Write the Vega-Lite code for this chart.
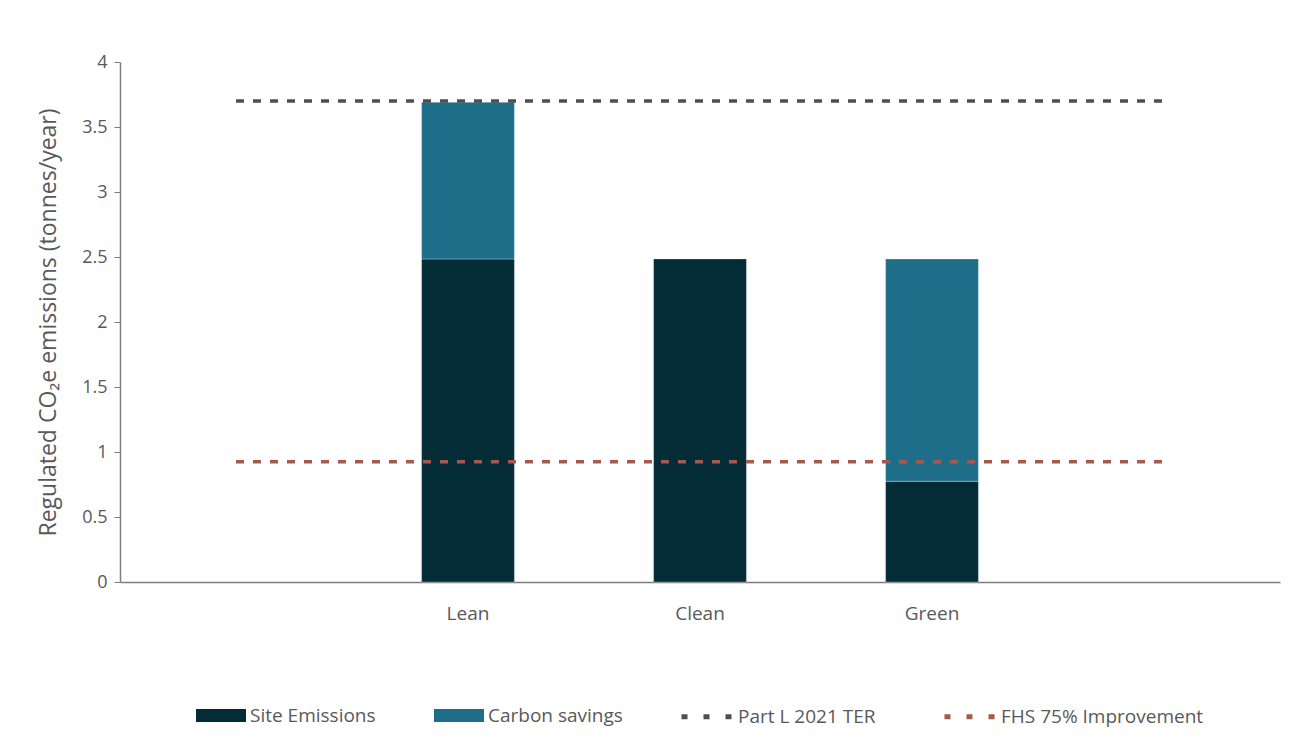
{
  "$schema": "https://vega.github.io/schema/vega-lite/v6.json",
  "width": 1160,
  "height": 520,
  "autosize": {"type": "none"},
  "padding": {"left": 120, "top": 62, "right": 23, "bottom": 156},
  "background": "white",
  "datasets": {
    "bars": [
      {"stage": "Lean", "series": "Site Emissions", "value": 2.485},
      {"stage": "Lean", "series": "Carbon savings", "value": 1.205},
      {"stage": "Clean", "series": "Site Emissions", "value": 2.485},
      {"stage": "Green", "series": "Site Emissions", "value": 0.775},
      {"stage": "Green", "series": "Carbon savings", "value": 1.71}
    ],
    "lines": [
      {"stage": "_a", "target": "Part L 2021 TER", "value": 3.7},
      {"stage": "Lean", "target": "Part L 2021 TER", "value": 3.7},
      {"stage": "Clean", "target": "Part L 2021 TER", "value": 3.7},
      {"stage": "Green", "target": "Part L 2021 TER", "value": 3.7},
      {"stage": "_b", "target": "Part L 2021 TER", "value": 3.7},
      {"stage": "_a", "target": "FHS 75% Improvement", "value": 0.925},
      {"stage": "Lean", "target": "FHS 75% Improvement", "value": 0.925},
      {"stage": "Clean", "target": "FHS 75% Improvement", "value": 0.925},
      {"stage": "Green", "target": "FHS 75% Improvement", "value": 0.925},
      {"stage": "_b", "target": "FHS 75% Improvement", "value": 0.925}
    ]
  },
  "encoding": {
    "x": {
      "field": "stage",
      "type": "nominal",
      "scale": {"domain": ["_a", "Lean", "Clean", "Green", "_b"], "paddingInner": 0.6, "paddingOuter": 0.3},
      "axis": {
        "title": null,
        "labelAngle": 0,
        "labelExpr": "indexof(datum.value, '_') == 0 ? '' : datum.value",
        "ticks": false,
        "labelPadding": 22,
        "labelFontSize": 19,
        "labelColor": "#595959",
        "labelFont": "Open Sans",
        "domainColor": "#7f7f7f",
        "domainWidth": 1.5
      }
    },
    "y": {
      "field": "value",
      "type": "quantitative",
      "scale": {"domain": [0, 4], "nice": false},
      "axis": {
        "title": "Regulated CO₂e emissions (tonnes/year)",
        "titleFont": "Open Sans",
        "titleFontSize": 23,
        "titleFontWeight": "normal",
        "titleColor": "#595959",
        "titlePadding": 21,
        "values": [0, 0.5, 1, 1.5, 2, 2.5, 3, 3.5, 4],
        "format": "~g",
        "grid": false,
        "tickSize": 6,
        "tickColor": "#7f7f7f",
        "domainColor": "#7f7f7f",
        "domainWidth": 1.5,
        "labelPadding": 7,
        "labelFontSize": 18,
        "labelColor": "#595959",
        "labelFont": "Open Sans"
      }
    }
  },
  "layer": [
    {
      "data": {"name": "bars"},
      "mark": {"type": "bar", "stroke": "white", "strokeWidth": 0.5, "strokeOpacity": 0.6},
      "encoding": {
        "y": {"field": "value", "type": "quantitative", "stack": "zero"},
        "fill": {
          "field": "series",
          "type": "nominal",
          "scale": {"domain": ["Site Emissions", "Carbon savings"], "range": ["#032c36", "#1e6e8a"]},
          "legend": {
            "title": null,
            "orient": "bottom",
            "direction": "horizontal",
            "symbolType": "M-1,-0.26L1,-0.26L1,0.26L-1,0.26Z",
            "symbolSize": 2500,
            "symbolStrokeWidth": 0,
            "symbolOpacity": 1,
            "labelFontSize": 19,
            "labelFont": "Open Sans",
            "labelColor": "#595959",
            "labelLimit": 400,
            "labelOffset": 4,
            "columnPadding": 58,
            "offset": 66
          }
        },
        "order": {"field": "series", "sort": "descending"}
      }
    },
    {
      "data": {"name": "lines"},
      "mark": {"type": "line", "strokeWidth": 3.5, "strokeDash": [8, 9]},
      "encoding": {
        "stroke": {
          "field": "target",
          "type": "nominal",
          "scale": {"domain": ["Part L 2021 TER", "FHS 75% Improvement"], "range": ["#4d4f53", "#a85a4a"]},
          "legend": {
            "title": null,
            "orient": "bottom",
            "direction": "horizontal",
            "symbolType": "stroke",
            "symbolSize": 2500,
            "symbolStrokeWidth": 5,
            "symbolDash": [6, 16],
            "labelFontSize": 19,
            "labelFont": "Open Sans",
            "labelColor": "#595959",
            "labelLimit": 400,
            "labelOffset": 4,
            "columnPadding": 58,
            "offset": 66
          }
        }
      }
    }
  ],
  "config": {
    "view": {"stroke": null},
    "legend": {
      "layout": {"bottom": {"anchor": "middle", "direction": "horizontal", "margin": 56, "center": true}}
    }
  }
}
